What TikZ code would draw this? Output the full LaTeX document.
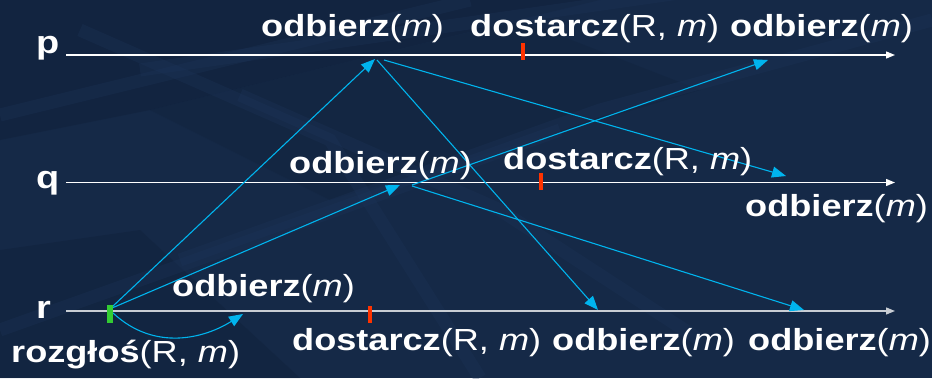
\documentclass[tikz,border=0pt]{standalone}
\usepackage{fontspec}
\setmainfont[FakeStretch=1.185]{Liberation Sans}
\usetikzlibrary{arrows.meta}
\definecolor{bgnavy}{HTML}{152947}
\definecolor{bgdark}{HTML}{11223C}
\definecolor{bgband}{HTML}{1D355A}
\definecolor{msgcyan}{HTML}{00B4EE}
\definecolor{evred}{HTML}{FF3300}
\definecolor{evgreen}{HTML}{33CC33}
\definecolor{raxis}{HTML}{C8CDD4}
\tikzset{
  axisline/.style={line width=1.3pt, -{Triangle[length=9pt,width=7pt]}},
  msg/.style={msgcyan, line width=1.1pt, -{Triangle[length=14pt,width=11pt]}},
  lbl/.style={white, font=\fontsize{30.5}{32}\selectfont, inner sep=0pt, anchor=base west},
  proc/.style={white, font=\fontsize{32}{34}\selectfont\bfseries, inner sep=0pt, anchor=base west},
  redmark/.style={fill=evred, draw=none, minimum width=4.5pt, minimum height=17pt, inner sep=0pt},
  greenmark/.style={fill=evgreen, draw=none, minimum width=6pt, minimum height=18pt, inner sep=0pt},
  band/.style={bgband, line width=13pt, opacity=0.3},
}
\begin{document}
\begin{tikzpicture}[x=1pt,y=-1pt]
% background
\fill[bgnavy] (0,0) rectangle (932,378);
\useasboundingbox (0,0) rectangle (932,378);
\fill[bgdark, opacity=0.6] (0,0) -- (600,0) -- (150,110) -- (0,140) -- cycle;
\fill[bgdark, opacity=0.5] (0,250) -- (140,230) -- (300,378) -- (0,378) -- cycle;
\fill[bgdark, opacity=0.4] (150,110) -- (520,20) -- (700,90) -- (330,200) -- cycle;
\draw[band] (0,115) -- (470,0);
\draw[band] (80,30) -- (330,140) -- (480,378);
\draw[band] (140,70) -- (700,-10);
\draw[band] (0,330) -- (560,130);
\draw[band] (180,260) -- (600,110) -- (932,20);
\draw[band] (240,95) -- (500,210) -- (700,340);

% axes
\coordinate (p0) at (66,55);   \coordinate (p1) at (895,55);
\coordinate (q0) at (66,182.5);\coordinate (q1) at (895,182.5);
\coordinate (r0) at (66,311);  \coordinate (r1) at (895,311);
\draw[axisline, white] (p0) -- (p1);
\draw[axisline, white] (q0) -- (q1);
\draw[axisline, raxis] (r0) -- (r1);

% event points
\coordinate (bc)  at (112,307);
\coordinate (bc2) at (112,308);
\coordinate (bc3) at (113,313);
\coordinate (rr)  at (243,314);
\coordinate (pr)  at (375,59);
\coordinate (ps1) at (377,60);
\coordinate (ps2) at (384,60);
\coordinate (qr)  at (400,185);
\coordinate (qs1) at (412,185);
\coordinate (qs2) at (412,186);
\coordinate (rp)  at (598,310);
\coordinate (qp)  at (786,176);
\coordinate (pq)  at (768,60);
\coordinate (rq)  at (804,310);

% messages
\draw[msg] (bc) -- (pr);
\draw[msg] (bc2) -- (qr);
\draw[msg] (bc3) .. controls (155,352) and (205,338) .. (rr);
\draw[msg] (ps1) -- (rp);
\draw[msg] (ps2) -- (qp);
\draw[msg] (qs1) -- (pq);
\draw[msg] (qs2) -- (rq);

% marks
\node[greenmark] (gm) at (110,314) {};
\node[redmark] (dp) at (523,51.5) {};
\node[redmark] (dq) at (541,181) {};
\node[redmark] (dr) at (370,314.5) {};

% process labels
\node[proc] (lp) at (36,53) {p};
\node[proc] (lq) at (36,188) {q};
\node[proc] (lr) at (36,318) {r};

% texts
\node[lbl] (t1) at (261,36) {\textbf{odbierz}(\textit{m})};
\node[lbl] (t2) at (470,36) {\textbf{dostarcz}(R, \textit{m})};
\node[lbl] (t3) at (730,36) {\textbf{odbierz}(\textit{m})};
\node[lbl] (t4) at (289,173) {\textbf{odbierz}(\textit{m})};
\node[lbl] (t5) at (503,169) {\textbf{dostarcz}(R, \textit{m})};
\node[lbl] (t6) at (745,216) {\textbf{odbierz}(\textit{m})};
\node[lbl] (t7) at (172,296) {\textbf{odbierz}(\textit{m})};
\node[lbl] (t8) at (11,362) {\textbf{rozgłoś}(R, \textit{m})};
\node[lbl] (t9) at (292,350) {\textbf{dostarcz}(R, \textit{m})};
\node[lbl] (t10) at (552,350) {\textbf{odbierz}(\textit{m})};
\node[lbl] (t11) at (748,350) {\textbf{odbierz}(\textit{m})};
\end{tikzpicture}
\end{document}
